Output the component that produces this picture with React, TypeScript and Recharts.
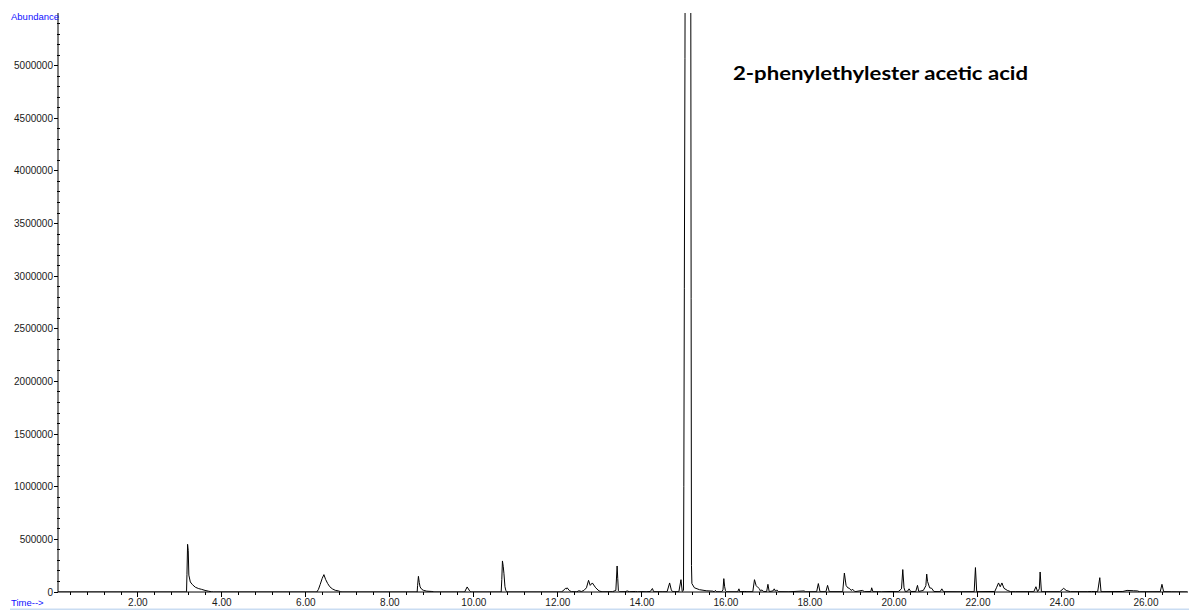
import { LineChart, Line, XAxis, YAxis } from "recharts";

// retention time (min), abundance
const earlyTrace: [number, number][] = [
  [0.1, 0], [3.15, 0], [3.16, 2000], [3.17, 168000], [3.185, 453000], [3.2, 396000],
  [3.215, 160000], [3.25, 95000], [3.3, 70000], [3.37, 45000], [3.45, 32000], [3.52, 25000],
  [3.6, 15000], [3.68, 8000], [3.75, 2000], [3.8, 0],
  [6.26, 0], [6.3, 25000], [6.34, 70000], [6.39, 130000], [6.43, 165000], [6.47, 120000],
  [6.52, 80000], [6.57, 50000], [6.63, 30000], [6.7, 16000], [6.78, 10000], [6.83, 2000], [6.86, 0],
  [8.65, 0], [8.66, 60000], [8.68, 149000], [8.7, 90000], [8.72, 48000], [8.76, 25000],
  [8.8, 16000], [8.88, 8000], [9.0, 5000], [9.05, 0],
  [9.78, 0], [9.84, 48000], [9.9, 10000], [9.93, 0],
  [10.65, 0], [10.665, 120000], [10.68, 295000], [10.7, 240000], [10.715, 178000],
  [10.74, 50000], [10.76, 16000], [10.79, 0],
  [12.08, 0], [12.12, 10000], [12.18, 35000], [12.2, 28000], [12.22, 40000], [12.27, 15000],
  [12.32, 3000], [12.45, 2000], [12.5, 12000], [12.56, 5000], [12.62, 15000], [12.68, 40000],
  [12.73, 111000], [12.77, 63000], [12.82, 86000], [12.9, 40000], [12.98, 10000], [13.05, 2000],
  [13.3, 3000], [13.38, 15000], [13.41, 247000], [13.425, 130000], [13.44, 12000], [13.47, 2000],
  [13.6, 3000], [13.65, 10000], [13.7, 3000], [13.85, 5000], [13.9, 2000], [14.0, 4000],
  [14.1, 2000], [14.2, 5000], [14.25, 33000], [14.28, 3000], [14.5, 2000],
  [14.6, 3000], [14.66, 86000], [14.7, 20000], [14.73, 3000],
  [14.88, 3000], [14.93, 117000], [14.96, 5000],
];

// 2-phenylethyl acetate, off scale at the top
const mainPeak: [number, number][] = [
  [14.99, 15000], [14.998, 1000000], [15.01, 2880000], [15.025, 5070000], [15.04, 7800000],
  [15.1, 8500000], [15.16, 7000000], [15.172, 2790000], [15.18, 250000], [15.19, 80000],
  [15.25, 40000], [15.37, 22000], [15.53, 12000], [15.69, 8000], [15.72, 2000], [15.75, 15000],
  [15.78, 2000],
];

const lateTrace: [number, number][] = [
  [15.9, 2000], [15.93, 20000], [15.95, 127000], [15.97, 50000], [15.99, 12000], [16.02, 2000],
  [16.28, 2000], [16.31, 30000], [16.33, 3000], [16.45, 5000], [16.5, 3000],
  [16.64, 3000], [16.68, 117000], [16.72, 60000], [16.77, 40000], [16.8, 30000], [16.82, 10000],
  [16.86, 20000], [16.9, 3000], [16.97, 5000], [17.0, 73000], [17.03, 4000], [17.12, 10000],
  [17.15, 30000], [17.18, 8000], [17.21, 20000], [17.25, 3000],
  [17.5, 2000], [17.86, 10000], [17.9, 2000],
  [18.16, 3000], [18.2, 80000], [18.24, 3000],
  [18.38, 3000], [18.42, 63000], [18.46, 3000],
  [18.78, 3000], [18.82, 180000], [18.86, 63000], [18.9, 40000], [18.94, 35000], [18.98, 15000],
  [19.02, 25000], [19.07, 3000],
  [19.25, 15000], [19.3, 3000], [19.45, 5000], [19.47, 40000], [19.5, 3000],
  [19.7, 2000], [19.93, 5000], [20.1, 3000], [20.18, 30000], [20.21, 213000], [20.24, 40000],
  [20.27, 3000], [20.33, 10000], [20.36, 30000], [20.4, 5000],
  [20.52, 5000], [20.56, 63000], [20.59, 5000], [20.7, 15000], [20.76, 60000], [20.78, 170000],
  [20.8, 100000], [20.85, 40000], [20.9, 35000], [20.95, 5000],
  [21.1, 3000], [21.14, 30000], [21.18, 3000],
  [21.6, 2000], [21.91, 3000], [21.94, 232000], [21.97, 3000],
  [22.4, 5000], [22.44, 40000], [22.49, 86000], [22.53, 50000], [22.57, 86000], [22.62, 35000],
  [22.7, 15000], [22.78, 3000], [22.9, 3000],
  [23.33, 3000], [23.38, 50000], [23.42, 3000], [23.46, 30000], [23.48, 190000], [23.51, 3000],
  [23.95, 3000], [24.04, 35000], [24.1, 15000], [24.2, 3000],
  [24.6, 3000], [24.7, 5000], [24.85, 3000], [24.9, 136000], [24.93, 3000],
  [25.45, 5000], [25.55, 15000], [25.7, 12000], [25.8, 10000], [25.85, 2000],
  [26.34, 3000], [26.38, 73000], [26.42, 3000], [26.6, 2000], [26.98, 0],
];

const xMajorTicks = [2, 4, 6, 8, 10, 12, 14, 16, 18, 20, 22, 24, 26];
const yMajorTicks = [0, 500000, 1000000, 1500000, 2000000, 2500000, 3000000, 3500000, 4000000, 4500000, 5000000];
const xMinorStep = 0.4;
const yMinorStep = 100000;
const peakLabel = "2-phenylethylester acetic acid";

const data = [...earlyTrace, ...mainPeak, ...lateTrace].map(([t, a]) => ({ t, a }));

const xTicks: number[] = [];
for (let i = 1; i * xMinorStep < 27; i++) xTicks.push(Math.round(i * xMinorStep * 10) / 10);
const yTicks: number[] = [];
for (let i = 0; i * yMinorStep <= 5400000; i++) yTicks.push(i * yMinorStep);

const tickFont = { fontFamily: "'Liberation Sans', Arial, sans-serif", fontSize: 10, fill: "#1a1a1a" };

const XTick = ({ x, y, payload }: any) => {
  const major = xMajorTicks.includes(payload.value);
  return (
    <g>
      <line x1={x} x2={x} y1={y} y2={y + (major ? 5 : 3)} stroke="#000" shapeRendering="crispEdges" />
      {major && (
        <text x={x} y={y + 14} textAnchor="middle" {...tickFont}>
          {payload.value.toFixed(2)}
        </text>
      )}
    </g>
  );
};

const YTick = ({ x, y, payload }: any) => {
  const major = yMajorTicks.includes(payload.value);
  return (
    <g>
      {major ? (
        <line x1={x - 4} x2={x} y1={y} y2={y} stroke="#000" shapeRendering="crispEdges" />
      ) : (
        <line x1={x - 1} x2={x + 2} y1={y} y2={y} stroke="#000" shapeRendering="crispEdges" />
      )}
      {major && (
        <text x={x - 5} y={y + 3.5} textAnchor="end" {...tickFont}>
          {payload.value}
        </text>
      )}
    </g>
  );
};

export default function App() {
  return (
    <div style={{ position: "absolute", left: 0, top: 0, width: 1189, height: 614, background: "#fff" }}>
      <LineChart width={1189} height={614} data={data} margin={{ top: 13, right: 1, bottom: 0, left: 0 }}>
        <XAxis
          dataKey="t"
          type="number"
          domain={[0.1, 27]}
          allowDataOverflow
          ticks={xTicks}
          interval={0}
          tickSize={0}
          tickMargin={0}
          tickLine={false}
          tick={XTick}
          height={22}
          axisLine={{ stroke: "#000" }}
        />
        <YAxis
          type="number"
          domain={[0, 5500000]}
          allowDataOverflow
          ticks={yTicks}
          interval={0}
          tickSize={0}
          tickMargin={0}
          tickLine={false}
          tick={YTick}
          width={58}
          axisLine={{ stroke: "#000" }}
        />
        <Line
          type="linear"
          dataKey="a"
          stroke="#000"
          strokeWidth={1}
          dot={false}
          activeDot={false}
          isAnimationActive={false}
        />
      </LineChart>
      <svg
        width={1189}
        height={614}
        style={{ position: "absolute", left: 0, top: 0, pointerEvents: "none" }}
      >
        <text x={11} y={20} fontFamily="'Liberation Sans', Arial, sans-serif" fontSize={9.5} fill="#1010ff">
          Abundance
        </text>
        <text x={11} y={606} fontFamily="'Liberation Sans', Arial, sans-serif" fontSize={9.5} fill="#1010ff">
          Time--&gt;
        </text>
        <rect x={10} y={608.5} width={1179} height={1.5} fill="#c9dcf2" />
        <text
          x={733}
          y={79.5}
          fontFamily="Lato, 'Open Sans', sans-serif"
          fontWeight="bold"
          fontSize={19}
          fill="#000"
          textLength={295}
          lengthAdjust="spacingAndGlyphs"
        >
          {peakLabel}
        </text>
      </svg>
    </div>
  );
}
